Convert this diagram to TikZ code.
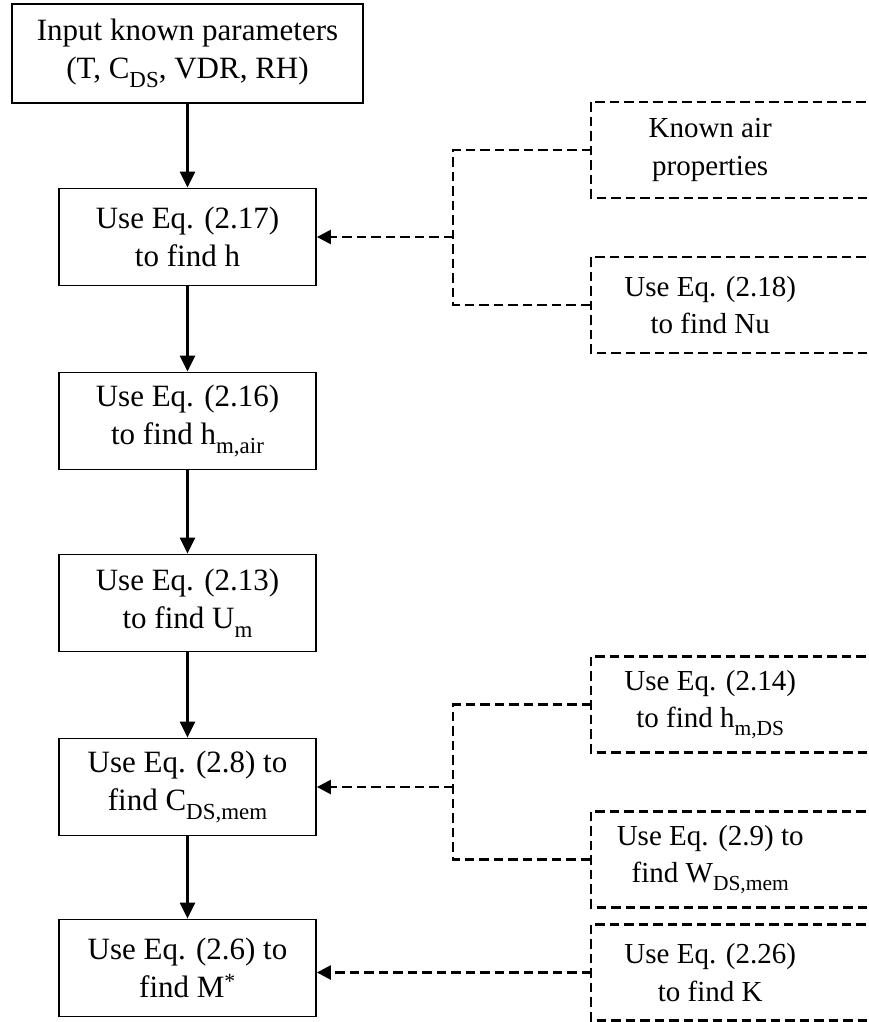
\documentclass[tikz,border=0pt]{standalone}
\usepackage{fontspec}
\setmainfont{Liberation Serif}
\usetikzlibrary{arrows.meta,calc}
\newcommand\sbs[1]{\raisebox{-0.28em}{\scalebox{0.74}{#1}}}
\begin{document}
\begin{tikzpicture}[x=1pt,y=-1pt,
  every node/.style={align=center, inner sep=0pt},
  mainfont/.style={font=\fontsize{31}{38}\selectfont},
  sidefont/.style={font=\fontsize{29}{37.5}\selectfont},
  mainbox/.style={mainfont, draw, line width=1.8pt, minimum width=257pt, minimum height=97pt},
  sidebox/.style={sidefont, minimum width=238pt, minimum height=96pt},
  dashline/.style={line width=2.5pt, dash pattern=on 9.5pt off 5pt},
  flow/.style={line width=2.3pt, -{Triangle[length=16pt,width=15pt]}},
  dflow/.style={dashline, -{Triangle[length=14pt,width=14pt]}}]
\useasboundingbox (0,0) rectangle (869,1022);
\clip (0,0) rectangle (869,1022);
% main column
\node[mainfont, draw, line width=1.8pt, minimum width=351pt, minimum height=99pt] (inp) at (187.5,53.5)
  {Input known parameters\\(T, C\sbs{DS}, VDR, RH)};
\node[mainbox] (u2) at (187.5,237) {Use Eq. (2.17)\\to find h};
\node[mainbox] (u3) at (187.5,421) {Use Eq. (2.16)\\to find h\sbs{m,air}};
\node[mainbox] (u4) at (187.5,603) {Use Eq. (2.13)\\to find U\sbs{m}};
\node[mainbox] (u5) at (187.5,787) {Use Eq. (2.8) to\\find C\sbs{DS,mem}};
\node[mainbox] (u6) at (187.5,968) {Use Eq. (2.6) to\\find M\textsuperscript{*}};
\draw[flow] (inp) -- (u2);
\draw[flow] (u2) -- (u3);
\draw[flow] (u3) -- (u4);
\draw[flow] (u4) -- (u5);
\draw[flow] (u5) -- (u6);
% side boxes
\node[sidebox, anchor=west] (ka) at (591,150) {Known air\\properties};
\node[sidebox, anchor=west] (nu) at (591,305) {Use Eq. (2.18)\\to find Nu};
\node[sidebox, anchor=west] (hm) at (591,704.5) {Use Eq. (2.14)\\to find h\sbs{m,DS}};
\node[sidebox, anchor=west] (wd) at (591,859.5) {Use Eq. (2.9) to\\find W\sbs{DS,mem}};
\node[sidebox, anchor=west] (kk) at (591,972.5) {Use Eq. (2.26)\\to find K};
\foreach \n in {ka,nu,hm,wd,kk}{
  \draw[dashline] ([xshift=80pt]\n.north east) -- (\n.north west) -- (\n.south west) -- ([xshift=80pt]\n.south east);
}
% brackets
\coordinate (b1) at (453,237);
\coordinate (b2) at (453,787);
\draw[dashline] (ka.west) -| (b1) |- (nu.west);
\draw[dflow] (b1) -- (u2.east);
\draw[dashline] (hm.west) -| (b2) |- (wd.west);
\draw[dflow] (b2) -- (u5.east);
\draw[dflow] (kk.west) -- (kk.west -| u6.east);
\end{tikzpicture}
\end{document}
